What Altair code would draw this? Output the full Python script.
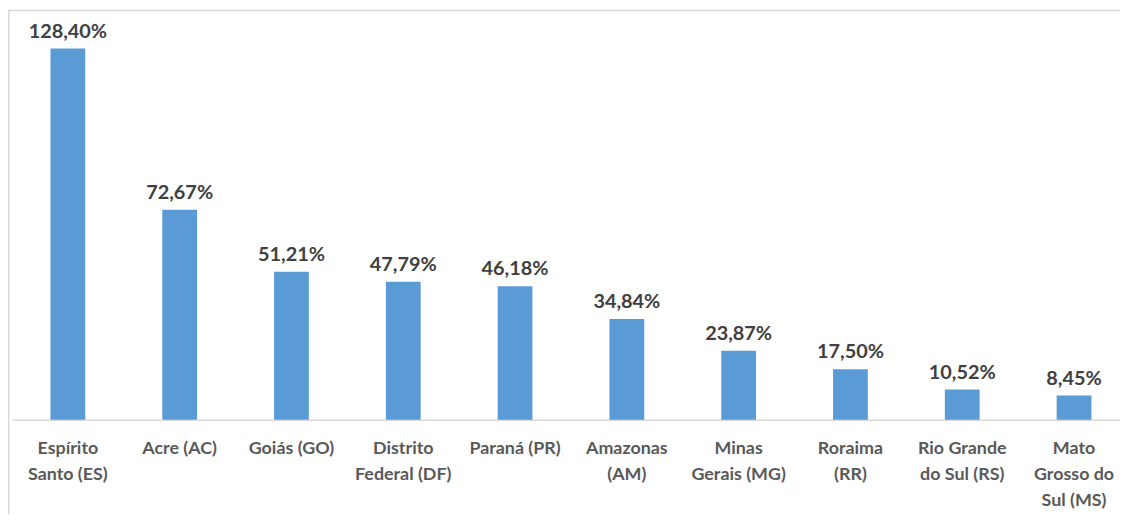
import altair as alt
import pandas as pd

categories = [
    "Espírito\nSanto (ES)",
    "Acre (AC)",
    "Goiás (GO)",
    "Distrito\nFederal (DF)",
    "Paraná (PR)",
    "Amazonas\n(AM)",
    "Minas\nGerais (MG)",
    "Roraima\n(RR)",
    "Rio Grande\ndo Sul (RS)",
    "Mato\nGrosso do\nSul (MS)",
]
values = [128.40, 72.67, 51.21, 47.79, 46.18, 34.84, 23.87, 17.50, 10.52, 8.45]

df = pd.DataFrame({"estado": categories, "valor": values})

W = 1120
H = 413
PAD_BOTTOM = 95
FONT = "Lato"

x_enc = alt.X(
    "estado:N",
    sort=None,
    title=None,
    scale=alt.Scale(range=[4, 1130], paddingInner=0.689, paddingOuter=0.3445),
    axis=alt.Axis(
        labelExpr="split(datum.label, '\\n')",
        labelAngle=0,
        labelFont=FONT,
        labelFontSize=18,
        labelFontWeight="bold",
        labelColor="#595959",
        labelLineHeight=26,
        labelPadding=20,
        labelLimit=0,
        labelOverlap=False,
        labelBound=False,
        ticks=False,
        tickSize=0,
        domainColor="#d9d9d9",
        domainWidth=1.5,
    ),
)
y_enc = alt.Y(
    "valor:Q",
    title=None,
    scale=alt.Scale(domain=[0, 141.8], nice=False, zero=True),
    axis=None,
)

base = alt.Chart(df)
bars = base.mark_bar(color="#5B9BD5").encode(x=x_enc, y=y_enc)
text = base.transform_calculate(
    rotulo="replace(format(datum.valor, '.2f'), '.', ',') + '%'"
).mark_text(
    font=FONT, fontSize=20, fontWeight="bold", color="#404040",
    baseline="alphabetic", dy=-11,
).encode(x=x_enc, y=y_enc, text="rotulo:N")

frame_df = pd.DataFrame({"a": [0]})
left_line = alt.Chart(frame_df).mark_rule(color="#d9d9d9", strokeWidth=1.5).encode(
    x=alt.value(0.75), y=alt.value(0), y2=alt.value(H + PAD_BOTTOM)
)
top_line = alt.Chart(frame_df).mark_rule(color="#d9d9d9", strokeWidth=1.5).encode(
    x=alt.value(0), x2=alt.value(W), y=alt.value(0.75)
)

chart = alt.layer(bars, text, left_line, top_line).properties(
    width=W,
    height=H,
    padding={"left": 0, "top": 0, "right": 0, "bottom": PAD_BOTTOM},
    autosize=alt.AutoSizeParams(type="none"),
    background="white",
).configure_view(stroke=None)

chart.save("out.html", embed_options={"renderer": "svg", "actions": False})
